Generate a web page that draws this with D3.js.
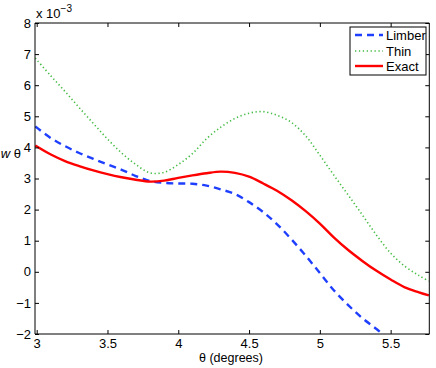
<!DOCTYPE html>
<html><head><meta charset="utf-8">
<script src="https://cdn.jsdelivr.net/npm/d3@7"></script>
<style>body{margin:0;background:#fff}svg{display:block}text{font-family:"Liberation Sans",Arial,Helvetica,sans-serif}</style>
</head><body><svg id="c" width="436" height="368"></svg>
<script>
const theta = [2.99,3.1,3.2,3.3,3.4,3.5,3.6,3.7,3.8,3.9,4.0,4.1,4.2,4.3,4.4,4.5,4.6,4.7,4.8,4.9,5.0,5.1,5.2,5.3,5.4,5.5,5.6,5.7,5.77];
const limber = [4.67,4.30,4.04,3.82,3.63,3.45,3.28,3.08,2.92,2.86,2.84,2.83,2.77,2.65,2.50,2.24,1.92,1.52,1.04,0.52,-0.04,-0.60,-1.07,-1.49,-1.84,-2.2,-2.5,-2.8,-3.0];
const thin = [6.87,6.30,5.80,5.28,4.77,4.27,3.82,3.45,3.18,3.20,3.45,3.80,4.28,4.65,4.93,5.10,5.15,5.03,4.80,4.37,3.75,3.10,2.47,1.83,1.18,0.60,0.18,-0.12,-0.30];
const exact = [4.06,3.77,3.56,3.40,3.26,3.14,3.04,2.96,2.90,2.93,3.02,3.10,3.17,3.22,3.18,3.06,2.84,2.60,2.30,1.95,1.55,1.10,0.70,0.35,0.03,-0.25,-0.50,-0.66,-0.76];
const xTicks = [3,3.5,4,4.5,5,5.5];
const yTicks = [-2,-1,0,1,2,3,4,5,6,7,8];
const seriesNames = ["Limber","Thin","Exact"];

const svg = d3.select("#c");
const L=35,R=429.3,T=23,B=334;
const x = d3.scaleLinear().domain([2.988,5.773]).range([L,R]);
const y = d3.scaleLinear().domain([-2,8]).range([B,T]);

svg.append("clipPath").attr("id","clip").append("rect").attr("x",L).attr("y",T).attr("width",R-L).attr("height",B-T);

const styles = [
  {data:limber,color:"#1f3fff",w:2.4,dash:"7,5"},
  {data:thin,color:"#44bb44",w:1.6,dash:"1.3,2.6"},
  {data:exact,color:"#ff0000",w:2.4,dash:null}
];
const line = d3.line().x((d,i)=>x(theta[i])).y(d=>y(d)).curve(d3.curveCatmullRom.alpha(0.5));
const g = svg.append("g").attr("clip-path","url(#clip)");
styles.forEach(s=>{
  g.append("path").attr("d",line(s.data)).attr("fill","none").attr("stroke",s.color)
   .attr("stroke-width",s.w).attr("stroke-dasharray",s.dash);
});

const axB = d3.axisBottom(x).tickValues(xTicks).tickSize(-4).tickPadding(5).tickFormat(d3.format("~g"));
const axT = d3.axisTop(x).tickValues(xTicks).tickSize(-4).tickFormat("");
const axL = d3.axisLeft(y).tickValues(yTicks).tickSize(-4).tickPadding(4).tickFormat(d=>d<0?"\u2212"+Math.abs(d):d);
const axR = d3.axisRight(y).tickValues(yTicks).tickSize(-4).tickFormat("");
function style(sel){sel.selectAll("path").attr("stroke","#000").attr("stroke-width",1);sel.selectAll("line").attr("stroke","#000");sel.selectAll("text").attr("fill","#000").style("font-size","13px").style("font-family","'Liberation Sans',Arial,sans-serif");}
svg.append("g").attr("transform",`translate(0,${B})`).call(axB).call(style).call(s=>s.select(".domain").attr("d",`M${L},0H${R}`));
svg.append("g").attr("transform",`translate(0,${T})`).call(axT).call(style).call(s=>s.select(".domain").attr("d",`M${L},0H${R}`));
svg.append("g").attr("transform",`translate(${L},0)`).call(axL).call(style).call(s=>s.select(".domain").attr("d",`M0,${T}V${B}`));
svg.append("g").attr("transform",`translate(${R},0)`).call(axR).call(style).call(s=>s.select(".domain").attr("d",`M0,${T}V${B}`));

const ex = svg.append("text").attr("x",36).attr("y",18).attr("font-size",13).attr("fill","#000");
ex.append("tspan").text("x 10");
ex.append("tspan").attr("dy",-6).attr("font-size",10).text("\u22123");

const yl = svg.append("text").attr("x",21).attr("y",158).attr("text-anchor","end").attr("font-size",13).attr("fill","#000");
yl.append("tspan").attr("font-style","italic").text("w");
yl.append("tspan").text(" \u03b8");
svg.append("text").attr("x",231).attr("y",362).attr("text-anchor","middle").attr("font-size",12.5).attr("fill","#000").text("\u03b8 (degrees)");

const lg = svg.append("g");
lg.append("rect").attr("x",350).attr("y",27).attr("width",76).attr("height",48).attr("fill","#fff").attr("stroke","#000").attr("stroke-width",1);
const ly = [35,51,66];
styles.forEach((s,i)=>{
  lg.append("line").attr("x1",355).attr("x2",383).attr("y1",ly[i]).attr("y2",ly[i]).attr("stroke",s.color).attr("stroke-width",s.w).attr("stroke-dasharray",s.dash);
  lg.append("text").attr("x",386).attr("y",ly[i]+4.5).attr("font-size",13).attr("fill","#000").text(seriesNames[i]);
});
</script></body></html>
